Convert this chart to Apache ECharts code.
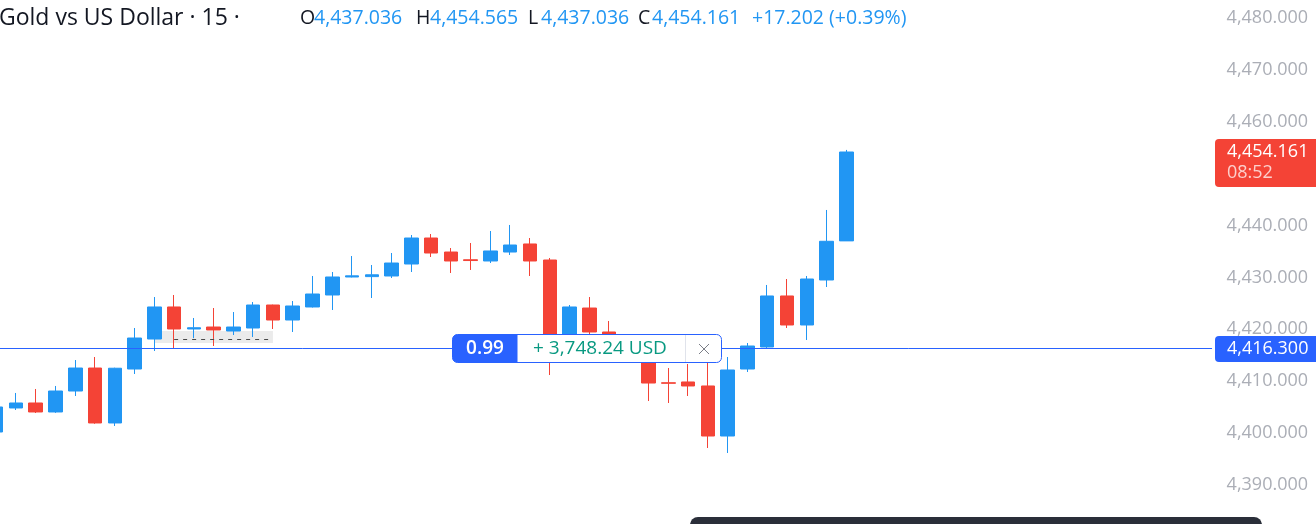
<!DOCTYPE html>
<html>
<head>
<meta charset="utf-8">
<title>Gold vs US Dollar · 15</title>
<script src="https://cdn.jsdelivr.net/npm/echarts@6/dist/echarts.min.js"></script>
<style>
  html, body { margin: 0; padding: 0; background: #ffffff; }
  #chart { width: 1316px; height: 524px; }
</style>
</head>
<body>
<div id="chart"></div>
<script>
// XAU/USD, 15-minute candles (open, close, low, high per bar)
const opens = [
  4400.21, 4404.84, 4405.80, 4404.07, 4408.11, 4412.54, 4401.95, 4412.35, 4418.13, 4424.30,
  4420.06, 4420.44, 4419.67, 4420.25, 4424.68, 4421.79, 4424.30, 4426.61, 4430.08, 4430.15,
  4430.27, 4432.58, 4437.59, 4434.89, 4433.40, 4433.16, 4434.89, 4436.44, 4433.35, 4416.01,
  4424.10, 4419.48, 4416.97, 4414.00, 4409.70, 4409.85, 4409.08, 4399.44, 4412.35, 4416.59,
  4426.42, 4420.83, 4429.50, 4437.036
];
const closes = [
  4405.03, 4405.80, 4404.07, 4408.11, 4412.54, 4401.95, 4412.50, 4418.32, 4424.30, 4420.06,
  4420.30, 4419.87, 4420.44, 4424.68, 4421.79, 4424.49, 4426.80, 4430.08, 4430.30, 4430.50,
  4432.77, 4437.59, 4434.70, 4433.16, 4433.25, 4435.09, 4436.24, 4433.16, 4416.01, 4424.30,
  4419.48, 4416.97, 4414.20, 4409.65, 4409.60, 4409.08, 4399.44, 4412.16, 4416.78, 4426.42,
  4420.83, 4429.69, 4436.959, 4454.161
];
const lows = [
  4399.80, 4404.45, 4403.87, 4403.90, 4407.15, 4401.80, 4401.37, 4411.39, 4415.82, 4416.40,
  4418.30, 4416.78, 4418.90, 4418.52, 4420.06, 4419.48, 4424.20, 4423.72, 4430.00, 4426.03,
  4429.88, 4431.04, 4433.93, 4430.85, 4431.43, 4432.77, 4434.32, 4430.27, 4411.19, 4415.50,
  4418.00, 4415.05, 4413.90, 4406.18, 4405.80, 4407.15, 4397.13, 4396.17, 4411.77, 4416.40,
  4420.25, 4417.94, 4428.15, 4437.036
];
const highs = [
  4405.60, 4407.73, 4408.50, 4409.08, 4414.08, 4414.66, 4412.60, 4420.25, 4426.22, 4426.61,
  4422.18, 4424.10, 4423.33, 4425.26, 4424.75, 4425.45, 4430.27, 4431.04, 4434.12, 4432.39,
  4434.70, 4438.17, 4438.36, 4435.66, 4436.63, 4438.94, 4440.10, 4437.59, 4433.74, 4424.68,
  4426.22, 4421.60, 4418.30, 4414.50, 4412.54, 4413.31, 4413.51, 4414.66, 4417.36, 4428.54,
  4429.69, 4430.27, 4442.99, 4454.565
];

// Open position
const entryPrice = 4416.300;
const positionLots = 0.99;
const ouncesPerLot = 100;
const barCountdown = '08:52';

// Execution marker zone and its dashed level
const markerZone = { fromBar: 8, toBar: 14, top: 4419.67, bottom: 4417.36 };
const markerLevel = { fromBar: 9, toBar: 14, price: 4418.13 };

// Price scale
const priceMin = 4380;
const priceMax = 4490;
const priceStep = 10;

// Time slots: the bars plus empty space to the right of the last bar
const slotCount = 62;
const slotTimes = [];
for (let i = 0; i < slotCount; i++) {
  const t = new Date(Date.UTC(2025, 11, 1, 4, 0) + i * 15 * 60000);
  slotTimes.push(t.toISOString().slice(11, 16));
}

const UP = '#2196f3';
const DOWN = '#f44336';
const POS_BLUE = '#2962ff';
const TEXT = '#131722';
const FONT = '"Open Sans", "Noto Sans", sans-serif';

function fmtPrice(v) {
  return v.toLocaleString('en-US', { minimumFractionDigits: 3, maximumFractionDigits: 3 });
}
function fmtMoney(v) {
  return v.toLocaleString('en-US', { minimumFractionDigits: 2, maximumFractionDigits: 2 });
}

const candles = opens.map((o, i) => [o, closes[i], lows[i], highs[i]]);

const chart = echarts.init(document.getElementById('chart'), null, { renderer: 'canvas' });

chart.setOption({
  animation: false,
  backgroundColor: '#ffffff',
  grid: {
    left: -13.69, right: 103.95, top: -34, bottom: -12.9,
    containLabel: false, outerBoundsMode: 'none'
  },
  xAxis: {
    type: 'category',
    data: slotTimes,
    boundaryGap: true,
    show: false
  },
  yAxis: {
    type: 'value',
    position: 'right',
    min: priceMin,
    max: priceMax,
    interval: priceStep,
    splitLine: { show: false },
    axisLine: { show: false },
    axisTick: { show: false },
    axisLabel: {
      margin: 96,
      align: 'right',
      color: '#abaeb6',
      fontSize: 18,
      fontFamily: FONT,
      formatter: v => fmtPrice(v)
    }
  },
  series: [{
    type: 'candlestick',
    data: candles,
    barWidth: 14,
    itemStyle: {
      color: UP, color0: DOWN,
      borderColor: UP, borderColor0: DOWN,
      borderWidth: 1
    },
    markArea: {
      silent: true,
      itemStyle: { color: 'rgba(0,0,0,0.08)' },
      data: [[
        { coord: [markerZone.fromBar, markerZone.top] },
        { coord: [markerZone.toBar, markerZone.bottom] }
      ]]
    },
    markLine: {
      silent: true,
      symbol: ['none', 'none'],
      label: { show: false },
      data: [
        { yAxis: entryPrice, lineStyle: { color: POS_BLUE, width: 1, type: 'solid' } },
        [
          { coord: [markerLevel.fromBar, markerLevel.price],
            lineStyle: { color: '#4a4a4a', width: 1, type: [4, 5] } },
          { coord: [markerLevel.toBar, markerLevel.price] }
        ]
      ]
    }
  }]
});

// Header, position tag and price-scale tags
const last = closes.length - 1;
const change = closes[last] - closes[last - 1];
const changePct = change / closes[last - 1] * 100;
const pnl = positionLots * ouncesPerLot * (closes[last] - entryPrice);

const yLast = chart.convertToPixel({ yAxisIndex: 0 }, closes[last]);
const yEntry = chart.convertToPixel({ yAxisIndex: 0 }, entryPrice);

function txt(x, y, text, fill, size, extra) {
  return {
    type: 'text', x: x, y: y, z: 60,
    style: Object.assign({
      text: text, fill: fill, fontSize: size, fontFamily: FONT,
      verticalAlign: 'middle', align: 'left'
    }, extra || {})
  };
}
function rect(x, y, w, h, r, fill, stroke) {
  return {
    type: 'rect', z: 55,
    shape: { x: x, y: y, width: w, height: h, r: r },
    style: { fill: fill, stroke: stroke || null, lineWidth: stroke ? 1 : 0 }
  };
}

const valueSize = 19.5;
const hdrY = 18;
const tagLeft = 452;
const tagTop = Math.round(yEntry) - 15;

chart.setOption({
  graphic: [
    txt(-1, hdrY, 'Gold vs US Dollar · 15 ·', TEXT, 23),
    txt(300, hdrY, 'O', TEXT, valueSize),
    txt(314, hdrY, fmtPrice(opens[last]), UP, valueSize),
    txt(416, hdrY, 'H', TEXT, valueSize),
    txt(430, hdrY, fmtPrice(highs[last]), UP, valueSize),
    txt(528, hdrY, 'L', TEXT, valueSize),
    txt(541, hdrY, fmtPrice(lows[last]), UP, valueSize),
    txt(638, hdrY, 'C', TEXT, valueSize),
    txt(652, hdrY, fmtPrice(closes[last]), UP, valueSize),
    txt(752, hdrY, (change >= 0 ? '+' : '') + change.toFixed(3) + ' (' + (change >= 0 ? '+' : '') + changePct.toFixed(2) + '%)', UP, valueSize),

    // position tag on the entry line
    rect(tagLeft + 0.5, tagTop + 0.5, 269, 28, 5, '#ffffff', POS_BLUE),
    rect(tagLeft + 0.5, tagTop + 0.5, 65, 28, [5, 0, 0, 5], POS_BLUE),
    txt(tagLeft + 33, tagTop + 15, positionLots.toFixed(2), '#ffffff', 19, { align: 'center', fontWeight: 600 }),
    txt(tagLeft + 81, tagTop + 15, '+ ' + fmtMoney(pnl) + ' USD', '#089981', 19),
    { type: 'line', z: 60, shape: { x1: tagLeft + 233.5, y1: tagTop + 1, x2: tagLeft + 233.5, y2: tagTop + 28 }, style: { stroke: '#e0e3eb', lineWidth: 1 } },
    { type: 'line', z: 60, shape: { x1: tagLeft + 247, y1: tagTop + 10, x2: tagLeft + 257, y2: tagTop + 20 }, style: { stroke: '#7b7e87', lineWidth: 1 } },
    { type: 'line', z: 60, shape: { x1: tagLeft + 257, y1: tagTop + 10, x2: tagLeft + 247, y2: tagTop + 20 }, style: { stroke: '#7b7e87', lineWidth: 1 } },

    // last price tag with bar countdown
    rect(1215, Math.round(yLast) - 13, 110, 48, [4, 0, 0, 4], DOWN),
    txt(1227, yLast, fmtPrice(closes[last]), '#ffffff', 18),
    txt(1227, yLast + 21, barCountdown, 'rgba(255,255,255,0.75)', 18),

    // entry price tag
    rect(1215, Math.round(yEntry) - 13, 110, 26, [4, 0, 0, 4], POS_BLUE),
    txt(1227, yEntry, fmtPrice(entryPrice), '#ffffff', 18),

    // bottom panel edge
    rect(690, 517, 572, 24, 8, '#2a2e39')
  ]
});
</script>
</body>
</html>
